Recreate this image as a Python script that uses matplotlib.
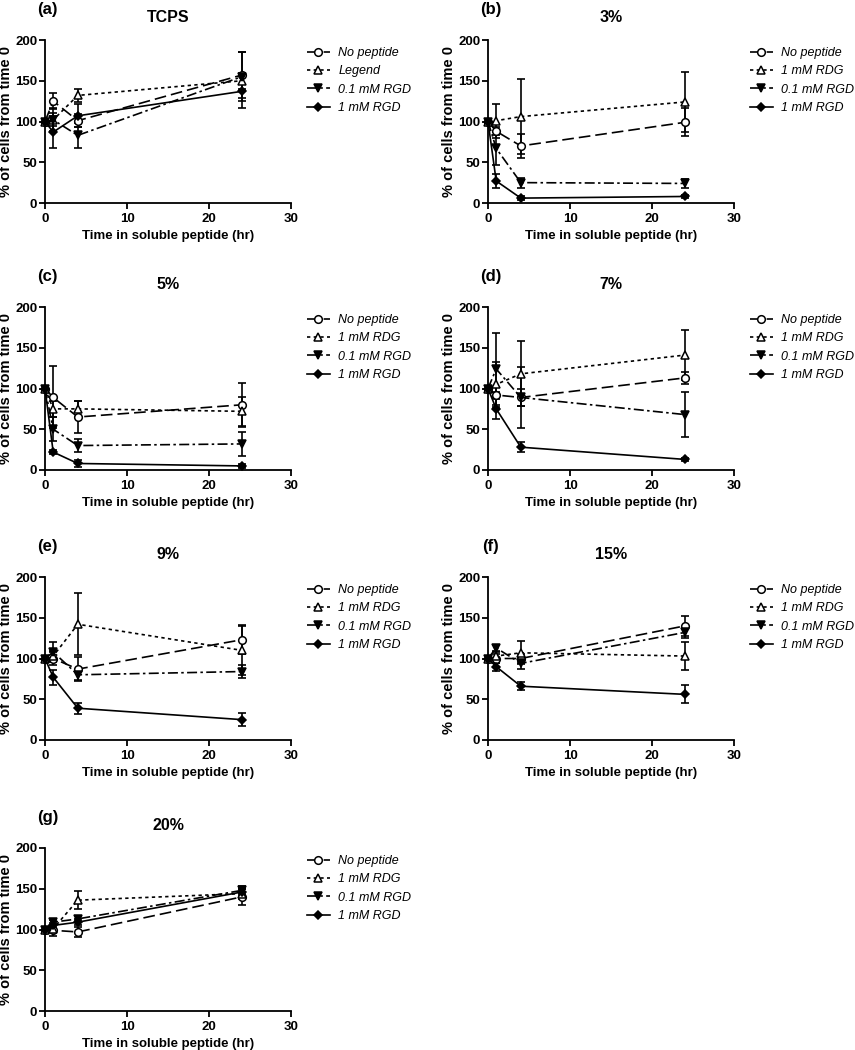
import numpy as np
import matplotlib
matplotlib.use('Agg')
import matplotlib.pyplot as plt

plt.rcParams['font.family'] = ['Liberation Sans', 'DejaVu Sans']

time = [0, 1, 4, 24]
series = ['No peptide', '1 mM RDG', '0.1 mM RGD', '1 mM RGD']
panels = ['(a)', '(b)', '(c)', '(d)', '(e)', '(f)', '(g)']
titles = ['TCPS', '3%', '5%', '7%', '9%', '15%', '20%']

# means, one row per series: no peptide, RDG, 0.1 RGD, 1 RGD
tcps = [[100, 125, 101, 157], [100, 102, 132, 150], [100, 102, 83, 155], [100, 87, 107, 137]]
tcps_err = [[0, 10, 8, 28], [0, 8, 8, 10], [0, 14, 15, 30], [0, 20, 14, 20]]
p3 = [[100, 88, 70, 99], [100, 101, 106, 124], [100, 67, 25, 24], [100, 27, 6, 8]]
p3_err = [[0, 5, 15, 17], [0, 21, 46, 37], [0, 20, 6, 5], [0, 8, 2, 2]]
p5 = [[100, 89, 65, 80], [100, 75, 75, 72], [100, 50, 30, 32], [100, 22, 8, 5]]
p5_err = [[0, 38, 20, 27], [0, 10, 10, 18], [0, 15, 8, 15], [0, 2, 4, 2]]
p7 = [[100, 92, 89, 113], [100, 105, 118, 141], [100, 124, 89, 68], [100, 75, 28, 13]]
p7_err = [[0, 4, 10, 7], [0, 28, 40, 31], [0, 44, 37, 28], [0, 12, 6, 2]]
p9 = [[100, 100, 87, 123], [100, 103, 142, 110], [100, 108, 80, 84], [100, 77, 39, 25]]
p9_err = [[0, 8, 15, 18], [0, 6, 38, 30], [0, 12, 6, 8], [0, 9, 7, 8]]
p15 = [[100, 100, 100, 140], [100, 103, 107, 103], [100, 113, 94, 132], [100, 90, 66, 56]]
p15_err = [[0, 5, 6, 12], [0, 5, 14, 17], [0, 4, 7, 7], [0, 5, 5, 11]]
p20 = [[100, 99, 97, 140], [100, 101, 136, 144], [100, 109, 113, 148], [100, 105, 109, 146]]
p20_err = [[0, 7, 6, 10], [0, 3, 11, 6], [0, 3, 3, 5], [0, 3, 4, 5]]

all_data = [tcps, p3, p5, p7, p9, p15, p20]
all_err = [tcps_err, p3_err, p5_err, p7_err, p9_err, p15_err, p20_err]

styles = [
    dict(marker='o', mfc='white', dashes=(7, 3)),
    dict(marker='^', mfc='white', dashes=(2, 2)),
    dict(marker='v', mfc='black', dashes=(6, 2, 1.5, 2)),
    dict(marker='D', mfc='black', dashes=()),
]

fig = plt.figure(figsize=(8.55, 10.5), dpi=100)
lefts = [45 / 855, 488 / 855]
bottoms = [1 - 203 / 1050, 1 - 470 / 1050, 1 - 740 / 1050, 1 - 1011 / 1050]
w = 246 / 855
h = 163 / 1050

for k in range(7):
    row, col = k // 2, k % 2
    ax = fig.add_axes([lefts[col], bottoms[row], w, h])
    handles = []
    for s in range(4):
        st = styles[s]
        ms = 4.5 if st['marker'] == 'D' else 5.5
        ax.errorbar(time, all_data[k][s], yerr=all_err[k][s], fmt='none',
                    ecolor='black', elinewidth=1.2, capsize=3, capthick=1.2, clip_on=False)
        ln, = ax.plot(time, all_data[k][s], color='black', lw=1.2,
                      marker=st['marker'], mfc=st['mfc'], mec='black', mew=1.1,
                      ms=ms, clip_on=False, zorder=3)
        if st['dashes']:
            ln.set_dashes(st['dashes'])
        handles.append(ln)
    labels = list(series)
    if k == 0:
        labels[1] = 'Legend'
    ax.legend(handles, labels, loc='upper left', bbox_to_anchor=(1.02, 1.025),
              frameon=False, handlelength=1.8, handletextpad=0.7, labelspacing=0.5,
              prop=dict(style='italic', size=9))
    ax.set_xlim(0, 30)
    ax.set_ylim(0, 200)
    ax.set_xticks([0, 10, 20, 30])
    ax.set_yticks([0, 50, 100, 150, 200])
    ax.spines['top'].set_visible(False)
    ax.spines['right'].set_visible(False)
    ax.spines['left'].set_linewidth(1.3)
    ax.spines['bottom'].set_linewidth(1.3)
    ax.tick_params(width=1.3, length=4, labelsize=9.5, pad=1.5)
    ax.tick_params(axis='x', pad=3.5)
    for t in ax.get_xticklabels() + ax.get_yticklabels():
        t.set_fontweight('bold')
    ax.set_xlabel('Time in soluble peptide (hr)', fontsize=9.5, fontweight='bold', labelpad=3)
    ax.set_ylabel('% of cells from time 0', fontsize=10.5, fontweight='bold', labelpad=1.5)
    ax.text(0.5, 1.14, titles[k], transform=ax.transAxes, ha='center', va='center',
            fontsize=11.5, fontweight='bold')
    ax.text(0.01, 1.185, panels[k], transform=ax.transAxes, ha='center', va='center',
            fontsize=12, fontweight='bold')

fig.savefig('out.png', dpi=100)
